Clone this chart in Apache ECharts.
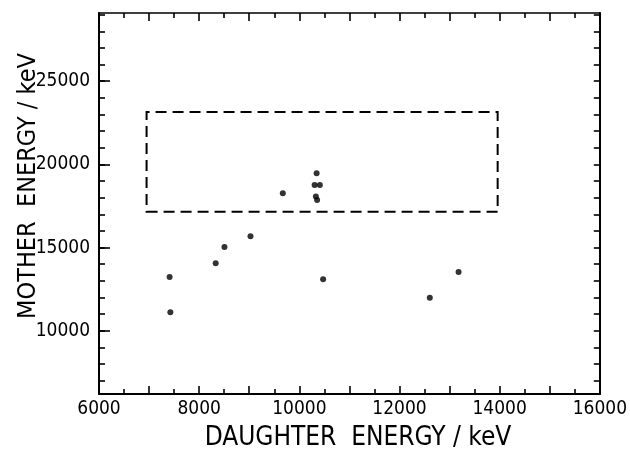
<!DOCTYPE html>
<html>
<head>
<meta charset="utf-8">
<script src="https://cdn.jsdelivr.net/npm/echarts@6/dist/echarts.min.js"></script>
<style>html,body{margin:0;padding:0;background:#fff}#c{width:630px;height:450px}</style>
</head>
<body>
<div id="c"></div>
<script>
// ---- data ----
const xTickLabels = [6000, 8000, 10000, 12000, 14000, 16000];
const yTickLabels = [10000, 15000, 20000, 25000];
const yMinorTicks = [7000, 8000, 9000, 10000, 11000, 12000, 13000, 14000, 15000, 16000, 17000, 18000, 19000, 20000, 21000, 22000, 23000, 24000, 25000, 26000, 27000, 28000, 29000];
const daughterEnergy = [7410, 7425, 8330, 8505, 9025, 9670, 10345, 10305, 10410, 10330, 10355, 10475, 12605, 13180];
const motherEnergy   = [13235, 11110, 14060, 15040, 15680, 18265, 19470, 18765, 18765, 18070, 17860, 13095, 11990, 13535];
const boxDaughter = [6950, 13960];
const boxMother = [17150, 23150];
const xTitle = 'DAUGHTER  ENERGY / keV';
const yTitle = 'MOTHER  ENERGY / keV';

const FONT = '"Liberation Sans Narrow", "DejaVu Sans Condensed", "Liberation Sans", sans-serif';
const chart = echarts.init(document.getElementById('c'), null, {renderer: 'canvas'});
const black = '#000';
const pts = daughterEnergy.map((d, i) => [d, motherEnergy[i]]);
const plain = v => String(v);

function xAx(pos, labels) {
  return {
    type: 'value', position: pos, min: 6000, max: 16000, interval: 1000,
    axisLine: {show: true, onZero: false, lineStyle: {color: black, width: pos === 'top' ? 1.6 : 2}},
    axisTick: {show: true, inside: true, length: 8, lineStyle: {color: black, width: 1.6}},
    minorTick: {show: true, splitNumber: 2, length: 5, lineStyle: {color: black, width: 1.6}},
    splitLine: {show: false}, minorSplitLine: {show: false},
    axisLabel: labels ? {show: true, customValues: xTickLabels, formatter: plain, color: black, fontSize: 19, fontFamily: FONT, margin: 6} : {show: false}
  };
}
function yAx(pos, ticks, len, line, labels) {
  return {
    type: 'value', position: pos, min: 6200, max: 29100,
    axisLine: {show: line, onZero: false, lineStyle: {color: black, width: 2}},
    axisTick: {show: true, inside: true, length: len, customValues: ticks, lineStyle: {color: black, width: 1.6}},
    splitLine: {show: false},
    axisLabel: labels ? {show: true, customValues: yTickLabels, formatter: plain, color: black, fontSize: 19, fontFamily: FONT, margin: 9} : {show: false}
  };
}

chart.setOption({
  backgroundColor: '#fff',
  animation: false,
  grid: {left: 99, right: 28.5, top: 13, bottom: 56, containLabel: false},
  xAxis: [xAx('bottom', true), xAx('top', false)],
  yAxis: [
    yAx('left', yMinorTicks, 6, true, true),
    yAx('left', yTickLabels, 11, false, false),
    yAx('right', yMinorTicks, 6, true, false)
  ],
  graphic: [
    {type: 'text', x: 358, y: 438, style: {text: xTitle, font: '26px ' + FONT, fill: black, textAlign: 'center', textVerticalAlign: 'middle'}},
    {type: 'text', x: 28, y: 186, rotation: Math.PI / 2, style: {text: yTitle, font: '25px ' + FONT, fill: black, textAlign: 'center', textVerticalAlign: 'middle'}}
  ],
  series: [{
    type: 'scatter', xAxisIndex: 0, yAxisIndex: 0,
    data: pts, symbol: 'circle', symbolSize: 6,
    itemStyle: {color: black},
    markArea: {
      silent: true,
      itemStyle: {color: 'rgba(0,0,0,0)', borderColor: black, borderWidth: 2, borderType: [11, 6]},
      data: [[{coord: [boxDaughter[0], boxMother[0]]}, {coord: [boxDaughter[1], boxMother[1]]}]]
    }
  }]
});
</script>
</body>
</html>
